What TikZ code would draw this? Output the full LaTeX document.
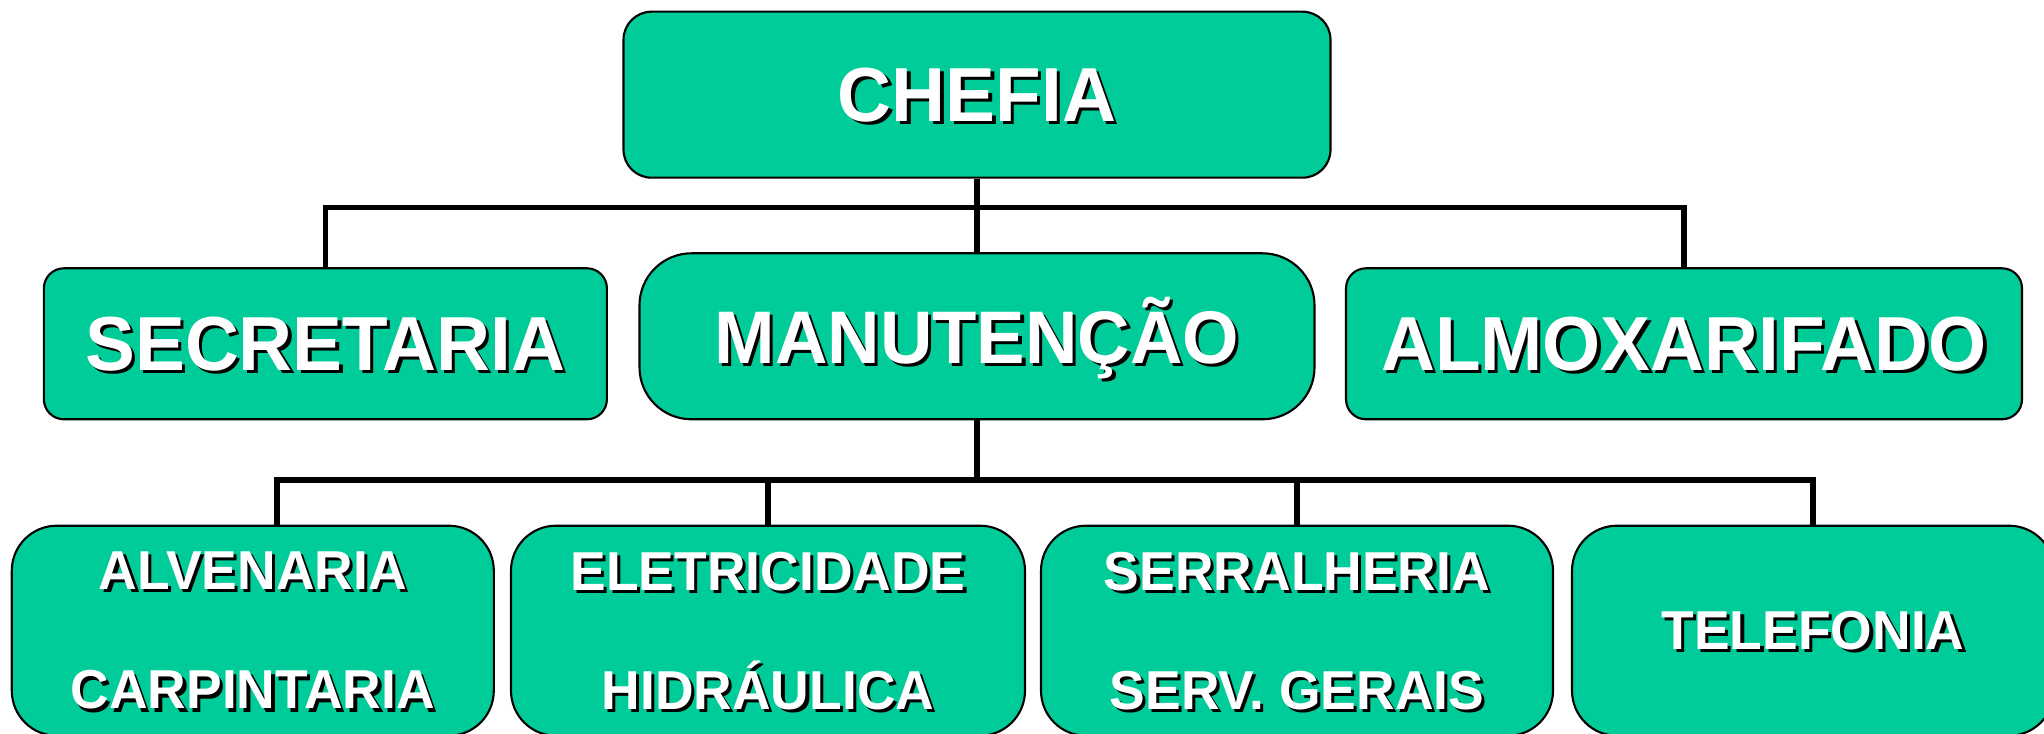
\documentclass[tikz,border=0pt]{standalone}
\usepackage{xcolor}
\usepackage{fontspec}
\usepackage{tikz}
\usetikzlibrary{positioning, calc}

\newfontfamily\orgfont{Liberation Sans}[FakeStretch=0.975]
\definecolor{orggreen}{RGB}{0,204,153}
\newcommand{\shtext}[1]{\rlap{\smash{\hspace{0.9pt}\raisebox{-0.9pt}{\color{black}#1}}}\textcolor{white}{#1}}

\begin{document}
\begin{tikzpicture}[
		unitbox/.style={draw=black, line width=0.6pt, fill=orggreen, rounded corners=#1, inner sep=0pt},
		topfont/.style={font=\orgfont\bfseries\fontsize{21.8}{26}\selectfont},
		lowfont/.style={font=\orgfont\bfseries\fontsize{15.6}{33.9}\selectfont, align=center},
		connector/.style={draw=black, line width=1.6pt}
	]
				% Frame
				\useasboundingbox (0,0) rectangle (20.44,-7.34);
				\clip (0,0) rectangle (20.44,-7.34);
				
				% Top level
				\node[unitbox=0.28cm, topfont, minimum width=7.07cm, minimum height=1.66cm] (chefia) at (9.77,-0.947) {\shtext{CHEFIA}};
				
				% Second level
				\node[unitbox=0.2cm, topfont, minimum width=5.63cm, minimum height=1.51cm] (secretaria) at (3.254,-3.438) {\shtext{SECRETARIA}};
				\node[unitbox=0.52cm, font=\orgfont\bfseries\fontsize{21.2}{26}\selectfont, text height=15.2pt, text depth=0pt, minimum width=6.75cm, minimum height=1.66cm] (manutencao) at (9.77,-3.363) {\shtext{MANUTENÇÃO}};
				\node[unitbox=0.2cm, topfont, minimum width=6.76cm, minimum height=1.51cm] (almoxarifado) at (16.84,-3.438) {\shtext{ALMOXARIFADO}};
				
				% Third level
				\node[unitbox=0.45cm, lowfont, minimum width=4.82cm, minimum height=2.10cm] (alvenaria) at (2.528,-6.307) {\shtext{ALVENARIA}\\\shtext{CARPINTARIA}};
				\node[unitbox=0.45cm, lowfont, minimum width=5.14cm, minimum height=2.10cm] (eletricidade) at (7.68,-6.307) {\shtext{ELETRICIDADE}\\\shtext{HIDRÁULICA}};
				\node[unitbox=0.45cm, lowfont, minimum width=5.12cm, minimum height=2.10cm] (serralheria) at (12.97,-6.307) {\shtext{SERRALHERIA}\\\shtext{SERV. GERAIS}};
				\node[unitbox=0.45cm, lowfont, minimum width=4.82cm, minimum height=2.10cm] (telefonia) at (18.13,-6.307) {\shtext{TELEFONIA}};
				
				% Upper connectors
				\coordinate (topbus) at (9.77,-2.075);
				\draw[connector] (chefia.south) -- (manutencao.north);
				\draw[connector] (secretaria.north) |- (topbus) -| (almoxarifado.north);
				
				% Lower connectors
				\coordinate (lowbus) at (9.77,-4.80);
				\draw[connector] (manutencao.south) -- (lowbus);
				\draw[connector] ([xshift=0.24cm]alvenaria.north) |- (lowbus) -| (telefonia.north);
				\draw[connector] (eletricidade.north) -- (eletricidade.north |- lowbus);
				\draw[connector] (serralheria.north) -- (serralheria.north |- lowbus);
			\end{tikzpicture}
\end{document}
